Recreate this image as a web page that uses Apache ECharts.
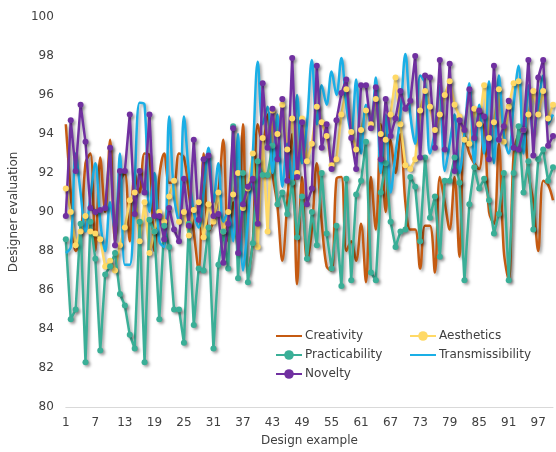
<!DOCTYPE html>
<html>
<head>
<meta charset="utf-8">
<script src="https://cdn.jsdelivr.net/npm/echarts@6/dist/echarts.min.js"></script>
<style>html,body{margin:0;padding:0;background:#fff;}#c{width:556px;height:452px;}</style>
</head>
<body>
<div id="c"></div>
<script>
const categories = Array.from({length: 100}, (_, k) => String(k + 1));
const yTicks = [80, 82, 84, 86, 88, 90, 92, 94, 96, 98, 100];

const creativity = [94.5,91.0,88.0,88.5,92.5,93.0,88.0,92.8,90.0,93.7,88.5,91.5,92.0,88.5,92.0,91.0,93.0,92.9,88.0,91.8,
93.0,91.5,91.5,93.0,92.8,91.0,89.0,87.0,93.0,89.0,89.5,91.0,93.7,88.5,90.5,88.0,94.5,86.8,88.5,94.5,
93.5,95.0,92.0,90.3,87.5,90.5,94.0,86.3,91.8,87.5,89.1,92.5,89.5,87.2,87.0,91.7,91.8,88.0,88.5,87.5,
89.4,86.4,91.8,89.1,94.5,90.0,93.7,92.0,94.0,90.5,89.1,89.1,87.1,89.3,89.3,86.9,91.8,90.5,89.1,91.8,
87.7,94.0,93.0,92.5,92.2,94.5,90.0,89.4,93.5,88.0,86.5,93.0,94.0,94.4,92.0,90.5,88.0,91.6,91.4,90.6];

const aesthetics = [91.2,90.0,88.3,89.0,89.8,89.0,88.9,88.6,87.2,87.5,87.0,88.3,89.2,90.6,91.0,88.5,90.5,87.9,89.0,90.0,
89.5,90.8,91.6,89.5,90.0,88.8,90.1,90.5,88.7,90.4,89.5,91.0,89.0,90.0,90.9,92.0,90.2,91.2,93.0,88.2,
93.8,89.0,95.2,94.0,95.5,93.2,94.8,92.0,94.8,92.6,93.5,95.4,94.6,93.9,92.4,92.7,95.0,96.3,94.1,93.2,
94.2,95.2,94.5,95.8,94.0,93.7,95.0,96.9,94.5,92.4,92.2,92.7,95.2,96.2,95.4,94.2,95.0,96.0,96.7,95.5,
94.9,93.7,93.5,95.3,94.5,96.5,93.8,94.6,96.3,93.6,95.4,96.6,96.7,94.2,95.0,96.2,95.0,96.2,94.8,95.5];

const practicability = [88.6,84.5,85.0,89.4,82.3,89.5,87.6,82.9,86.8,87.2,87.9,85.8,85.2,83.7,83.0,89.5,82.3,89.6,89.0,84.5,
89.3,88.2,85.0,85.0,83.3,89.4,84.2,87.1,87.0,89.2,83.0,87.3,89.0,87.1,94.4,86.6,92.0,86.4,88.4,92.6,
91.9,91.9,93.4,90.4,91.0,89.9,91.5,88.7,90.8,87.6,90.0,88.3,92.0,88.9,87.1,89.3,86.2,91.7,86.5,90.9,
91.6,93.6,86.9,86.5,91.0,92.5,89.5,88.2,89.0,89.1,91.8,91.3,88.5,92.8,89.7,90.8,87.7,91.6,91.6,92.8,
91.5,86.5,90.4,92.3,91.2,91.7,90.6,88.9,89.9,92.0,86.5,92.0,94.4,91.0,92.6,89.1,92.7,93.2,91.6,92.3];

const transmissibility = [87.9,88.2,93.0,91.0,89.0,90.8,92.5,89.5,88.0,90.5,89.0,93.0,87.3,87.3,91.5,95.6,95.5,90.0,92.0,88.5,
88.2,94.9,90.8,89.5,94.9,92.0,90.0,89.2,91.0,93.3,90.5,92.5,89.5,90.0,88.5,94.0,87.0,89.5,93.0,97.7,
94.5,95.4,92.0,95.0,91.3,93.5,91.5,96.0,92.5,94.5,97.8,94.5,96.5,95.5,97.2,96.0,97.9,95.5,94.0,96.8,
93.0,95.5,94.5,96.9,92.0,95.0,91.0,93.0,95.0,98.1,95.0,93.5,97.0,96.6,93.0,94.2,96.5,92.1,93.5,95.0,
92.0,94.0,96.6,92.5,95.5,93.0,96.7,92.5,97.0,94.0,93.0,95.5,97.5,93.0,96.5,94.0,95.5,97.0,94.5,95.0];

const novelty = [89.8,94.7,92.1,95.5,93.6,90.2,90.0,90.1,90.2,93.3,88.3,92.1,92.1,95.0,89.9,92.1,91.0,95.0,89.8,89.8,
88.6,90.2,89.1,88.5,91.7,89.3,93.7,89.6,92.7,92.9,89.8,89.9,87.4,89.4,94.3,87.9,90.4,91.3,91.7,89.4,
96.6,93.3,95.3,92.7,95.8,91.6,97.9,91.8,94.6,90.4,91.2,97.5,93.3,94.5,92.2,94.7,96.1,96.8,93.8,92.2,
96.5,96.5,94.3,96.4,92.7,95.8,93.9,94.8,96.2,95.3,95.7,98.0,92.8,97.0,96.9,93.3,97.8,93.2,97.6,92.1,
94.7,94.2,96.3,93.8,95.2,94.9,92.7,97.5,93.7,94.4,95.7,93.3,93.2,94.2,97.8,92.9,96.9,97.8,93.4,93.9];

const FONT = 'DejaVu Sans';
const shadow = {shadowColor: 'rgba(0,0,0,0.35)', shadowBlur: 3, shadowOffsetX: 2, shadowOffsetY: 2};

function mk(name, data, color, withMarker, smooth) {
  return {
    name, type: 'line', data, smooth: smooth ? 0.35 : false,
    symbol: withMarker ? 'circle' : 'none', symbolSize: 6,
    showSymbol: withMarker, showAllSymbol: true,
    lineStyle: Object.assign({color, width: 2.5}, shadow),
    itemStyle: Object.assign({color}, shadow),
    emphasis: {disabled: true}, animation: false
  };
}

const legendText = {fontFamily: FONT, fontSize: 12, color: '#404040', padding: [0, 0, 0, -2]};
const chart = echarts.init(document.getElementById('c'), null, {renderer: 'canvas'});
chart.setOption({
  animation: false,
  backgroundColor: '#fff',
  grid: {left: 60, right: 3, top: 17, bottom: 44},
  legend: [
    {data: [{name: 'Creativity', itemStyle: {opacity: 0}}, 'Practicability', 'Novelty'], orient: 'vertical', left: 270, top: 325,
     itemGap: 7, itemWidth: 26, itemHeight: 12, textStyle: legendText},
    {data: ['Aesthetics', {name: 'Transmissibility', itemStyle: {opacity: 0}}], orient: 'vertical', left: 404, top: 325,
     itemGap: 7, itemWidth: 26, itemHeight: 12, textStyle: legendText}
  ],
  xAxis: {
    type: 'category', data: categories, boundaryGap: false,
    name: 'Design example', nameLocation: 'middle', nameGap: 28,
    nameTextStyle: {fontFamily: FONT, fontSize: 12, color: '#404040'},
    axisLine: {lineStyle: {color: '#d9d9d9', width: 1}},
    axisTick: {show: false},
    axisLabel: {interval: 5, fontFamily: FONT, fontSize: 12, color: '#404040', margin: 10}
  },
  yAxis: {
    type: 'value', min: yTicks[0], max: yTicks[yTicks.length - 1], interval: 2,
    name: 'Designer evaluation', nameLocation: 'middle', nameGap: 40,
    nameTextStyle: {fontFamily: FONT, fontSize: 12, color: '#404040'},
    axisLine: {show: false}, axisTick: {show: false}, splitLine: {show: false},
    axisLabel: {fontFamily: FONT, fontSize: 12, color: '#404040', margin: 12}
  },
  series: [
    mk('Creativity', creativity, '#C55A11', false, true),
    mk('Aesthetics', aesthetics, '#FFD966', true, false),
    mk('Practicability', practicability, '#3AAF97', true, false),
    mk('Transmissibility', transmissibility, '#1AAFE6', false, true),
    mk('Novelty', novelty, '#7030A0', true, false)
  ]
});
</script>
</body>
</html>
